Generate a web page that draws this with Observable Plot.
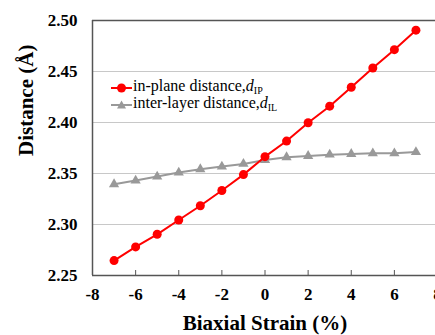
<!DOCTYPE html>
<html>
<head>
<meta charset="utf-8">
<script src="https://cdn.jsdelivr.net/npm/d3@7"></script>
<script src="https://cdn.jsdelivr.net/npm/@observablehq/plot@0.6"></script>
<style>
  html, body { margin: 0; padding: 0; background: #fff; }
  #wrap { position: relative; width: 435px; height: 335px; overflow: hidden; font-family: "Liberation Serif", serif; }
  #wrap svg text { font-family: "Liberation Serif", serif !important; }
  #legend { position: absolute; left: 111px; top: 79px; font-size: 16px; color: #000; line-height: 17px; font-family: "Liberation Serif", serif; }
  #legend .row { display: flex; align-items: center; height: 17px; white-space: nowrap; }
  #legend svg { margin-right: 1px; }
  #legend sub { font-size: 10px; vertical-align: -3px; }
</style>
</head>
<body>
<div id="wrap"><div id="legend"></div></div>
<script>
const strain = [-7, -6, -5, -4, -3, -2, -1, 0, 1, 2, 3, 4, 5, 6, 7];
const inPlane = [2.2646, 2.278, 2.2904, 2.3044, 2.3184, 2.3333, 2.3489, 2.3665, 2.3818, 2.3997, 2.416, 2.4346, 2.4534, 2.4714, 2.4905];
const interLayer = [2.3395, 2.3431, 2.347, 2.3509, 2.3542, 2.3568, 2.3594, 2.3633, 2.3659, 2.3672, 2.3685, 2.3691, 2.3698, 2.3698, 2.371];
const xTicks = [-8, -6, -4, -2, 0, 2, 4, 6, 8];
const yTicks = [2.25, 2.30, 2.35, 2.40, 2.45, 2.50];
const gridTicks = [2.30, 2.35, 2.40, 2.45];
const xLabel = "Biaxial Strain (%)";
const yLabel = "Distance (Å)";
const seriesNames = ["in-plane distance,", "inter-layer distance,"];
const seriesSub = ["IP", "IL"];

const ipData = strain.map((s, i) => ({s, v: inPlane[i]}));
const ilData = strain.map((s, i) => ({s, v: interLayer[i]}));

const red = "#ff0000";
const gray = "#999999";
const axisColor = "#555555";
const font = "'Liberation Serif', serif";

const chart = Plot.plot({
  width: 435,
  height: 335,
  marginLeft: 92,
  marginRight: -2,
  marginTop: 20,
  marginBottom: 60,
  style: {fontFamily: font, background: "#fff", overflow: "visible"},
  x: {domain: [-8, 8]},
  y: {domain: [2.25, 2.50]},
  marks: [
    Plot.gridY(gridTicks, {stroke: "#c8c8c8", strokeOpacity: 1, strokeWidth: 1}),
    Plot.ruleY([2.50], {stroke: axisColor, strokeWidth: 1.5}),
    Plot.ruleY([2.25], {stroke: axisColor, strokeWidth: 1.5}),
    Plot.ruleX([-8], {stroke: axisColor, strokeWidth: 1.5}),
    Plot.tickX(xTicks, {x: d => d, insetTop: 250, stroke: axisColor, strokeWidth: 1}),
    Plot.axisX(xTicks, {tickSize: 0, tickPadding: 12, tickFormat: d => String(d), fontSize: 17, fontWeight: "bold", fill: "#000", label: null}),
    Plot.axisY(yTicks, {tickSize: 0, tickPadding: 15, tickFormat: d3.format(".2f"), fontSize: 17, fontWeight: "bold", fill: "#000", label: null}),
    Plot.text([xLabel], {frameAnchor: "bottom", dy: 48, text: d => d, fontSize: 21, fontWeight: "bold", fill: "#000", lineAnchor: "middle"}),
    Plot.text([yLabel], {frameAnchor: "left", dx: -66, dy: 8, rotate: -90, text: d => d, fontSize: 21, fontWeight: "bold", fill: "#000", lineAnchor: "middle"}),
    Plot.line(ilData, {x: "s", y: "v", stroke: gray, strokeWidth: 2}),
    Plot.dot(ilData, {x: "s", y: "v", symbol: "triangle", r: 3.8, fill: gray, stroke: "none"}),
    Plot.line(ipData, {x: "s", y: "v", stroke: red, strokeWidth: 2}),
    Plot.dot(ipData, {x: "s", y: "v", r: 4.5, fill: red, stroke: "none"})
  ]
});
document.getElementById("wrap").prepend(chart);

const legend = document.getElementById("legend");
const sw = [
  `<svg width="21" height="12"><line x1="0" y1="6" x2="21" y2="6" stroke="${red}" stroke-width="2"/><circle cx="10.5" cy="6" r="4.5" fill="${red}"/></svg>`,
  `<svg width="21" height="12"><line x1="0" y1="6" x2="21" y2="6" stroke="${gray}" stroke-width="2"/><path d="M10.5,1.5 L15,9.5 L6,9.5 Z" fill="${gray}"/></svg>`
];
seriesNames.forEach((n, i) => {
  const row = document.createElement("div");
  row.className = "row";
  row.innerHTML = `${sw[i]}<span>${n}<i>d</i><sub>${seriesSub[i]}</sub></span>`;
  legend.appendChild(row);
});
</script>
</body>
</html>
